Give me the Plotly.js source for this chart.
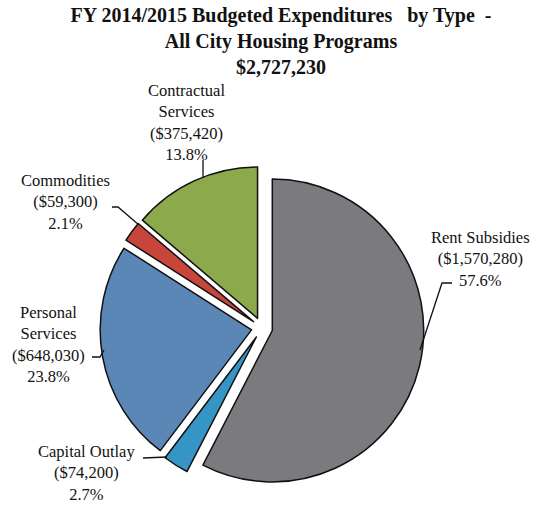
<!DOCTYPE html>
<html>
<head>
<meta charset="utf-8">
<script src="https://cdn.plot.ly/plotly-3.0.1.min.js"></script>
<style>html,body{margin:0;padding:0;background:#fff;}#chart{width:546px;height:505px;}</style>
</head>
<body>
<div id="chart"></div>
<script>
// Data (clockwise from 12 o'clock)
var categories = ["Rent Subsidies", "Capital Outlay", "Personal Services", "Commodities", "Contractual Services"];
var amounts = [1570280, 74200, 648030, 59300, 375420];
var percentLabels = ["57.6%", "2.7%", "23.8%", "2.1%", "13.8%"];
var labelTexts = [
  "Rent Subsidies<br>($1,570,280)<br>57.6%",
  "Capital Outlay<br>($74,200)<br>2.7%",
  "Personal<br>Services<br>($648,030)<br>23.8%",
  "Commodities<br>($59,300)<br>2.1%",
  "Contractual<br>Services<br>($375,420)<br>13.8%"
];
var colors = ["#7a7a7f", "#3596c6", "#5b87b7", "#c8453c", "#8caa4c"];

var W = 546, H = 505;
function px(x) { return x / W; }
function py(y) { return 1 - y / H; }

var trace = {
  type: "pie",
  labels: categories,
  values: amounts,
  sort: false,
  direction: "clockwise",
  rotation: 0,
  pull: [0.07, 0.07, 0.07, 0.07, 0.07],
  textinfo: "none",
  marker: { colors: colors, line: { color: "#111", width: 1.5 } },
  domain: { x: [px(100), px(424)], y: [py(490), py(166)] },
  showlegend: false
};

var FONT = "Liberation Serif";
// label block centres (pixels)
var labelPos = [[480, 259], [86, 473], [48, 344], [65, 202], [186, 122]];
var annotations = labelTexts.map(function (t, i) {
  return {
    text: t, x: px(labelPos[i][0]), y: py(labelPos[i][1]),
    xref: "paper", yref: "paper", xanchor: "center", yanchor: "middle",
    showarrow: false, align: "center",
    font: { family: FONT, size: 16.5, color: "#111" }
  };
});

// leader lines (pixels)
var leaders = [
  [[452, 283], [442, 283], [420, 350]],
  [[143, 458], [167, 457]],
  [[92, 357], [100, 357], [104, 350]],
  [[112, 207], [118, 207], [139, 225]],
  [[203, 160], [203, 178]]
];
var shapes = leaders.map(function (pts) {
  var d = pts.map(function (p, k) { return (k ? "L" : "M") + px(p[0]) + "," + py(p[1]); }).join(" ");
  return { type: "path", xref: "paper", yref: "paper", path: d, line: { color: "#111", width: 1.3 } };
});

var layout = {
  width: W, height: H,
  margin: { l: 0, r: 0, t: 0, b: 0 },
  paper_bgcolor: "#fff",
  title: {
    text: "<b>FY 2014/2015 Budgeted Expenditures \u00a0 by Type \u00a0-</b><br><b>All City Housing Programs</b><br><b>$2,727,230</b>",
    x: px(281), xanchor: "center", y: py(22), yanchor: "middle",
    font: { family: FONT, size: 20, color: "#111" }
  },
  annotations: annotations,
  shapes: shapes
};

Plotly.newPlot("chart", [trace], layout, { displayModeBar: false, staticPlot: true });
</script>
</body>
</html>
